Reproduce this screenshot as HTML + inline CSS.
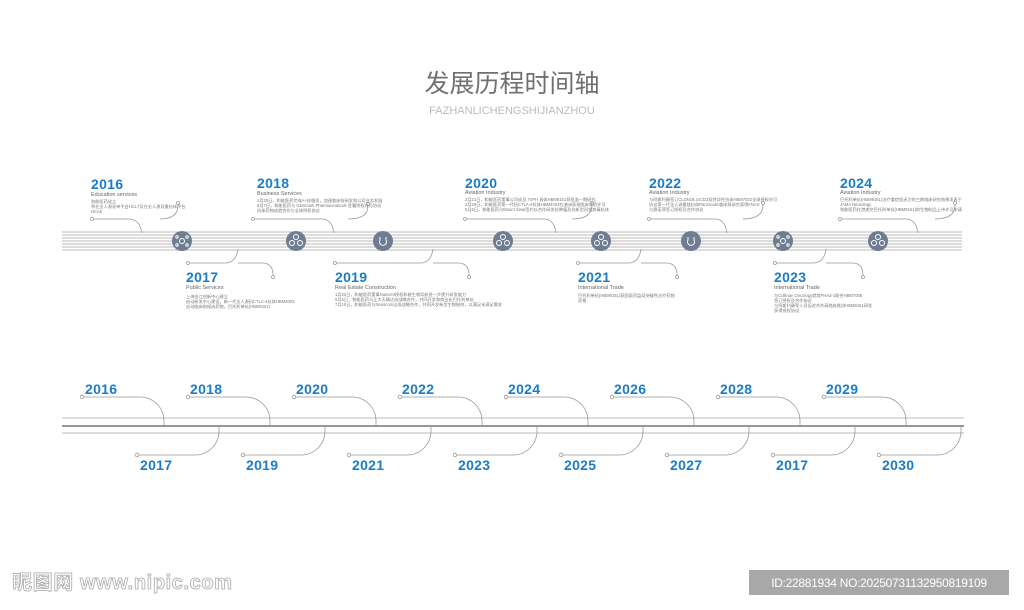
<!DOCTYPE html>
<html><head><meta charset="utf-8"><style>
html,body{margin:0;padding:0;background:#fff;}
svg{display:block;}
.y{font-family:"Liberation Sans",sans-serif;font-weight:bold;fill:#1a7cc8;font-size:14px;letter-spacing:0.3px}
.s{font-family:"Liberation Sans",sans-serif;fill:#666;font-size:5.5px}
.t{font-family:"Liberation Sans","Noto Sans CJK SC",sans-serif;fill:#777;font-size:4.2px}
.c{fill:none;stroke:#999;stroke-width:0.8}
.d{fill:#fff;stroke:#999;stroke-width:0.8}
</style></head><body>
<svg width="1024" height="610" viewBox="0 0 1024 610" xmlns="http://www.w3.org/2000/svg">
<rect width="1024" height="610" fill="#fff"/>
<text x="512" y="92" text-anchor="middle" font-family="'Liberation Sans','Noto Sans CJK SC',sans-serif" font-size="25" fill="#707070">发展历程时间轴</text>
<text x="512" y="114" text-anchor="middle" font-family="'Liberation Sans',sans-serif" font-size="11" fill="#bbb">FAZHANLICHENGSHIJIANZHOU</text>

<g stroke="#bbb" stroke-width="0.9">
<line x1="62" y1="232" x2="962" y2="232"/><line x1="62" y1="235" x2="962" y2="235"/>
<line x1="62" y1="238" x2="962" y2="238"/><line x1="62" y1="241" x2="962" y2="241"/>
<line x1="62" y1="244" x2="962" y2="244"/><line x1="62" y1="247" x2="962" y2="247"/>
<line x1="62" y1="250" x2="962" y2="250"/>
</g>
<g fill="#6f7d92">
<circle cx="182" cy="241" r="10"/><circle cx="296" cy="241" r="10"/><circle cx="383" cy="241" r="10"/>
<circle cx="503" cy="241" r="10"/><circle cx="601" cy="241" r="10"/><circle cx="691" cy="241" r="10"/>
<circle cx="783" cy="241" r="10"/><circle cx="878" cy="241" r="10"/>
</g>
<g fill="none" stroke="#fff" stroke-width="1">
<circle cx="182" cy="241" r="2.5"/><circle cx="177" cy="237" r="1.2"/><circle cx="187" cy="237" r="1.2"/><circle cx="177" cy="245" r="1.2"/><circle cx="187" cy="245" r="1.2"/>
<circle cx="292" cy="243" r="2.5"/><circle cx="300" cy="243" r="2.5"/><circle cx="296" cy="237" r="2.5"/>
<path d="M380 237 v3 a3.5 3.5 0 1 0 6 0 v-3"/>
<circle cx="499" cy="243" r="2.5"/><circle cx="507" cy="243" r="2.5"/><circle cx="503" cy="237" r="2.5"/>
<circle cx="597" cy="243" r="2.5"/><circle cx="605" cy="243" r="2.5"/><circle cx="601" cy="237" r="2.5"/>
<path d="M688 237 v3 a3.5 3.5 0 1 0 6 0 v-3"/>
<circle cx="783" cy="241" r="2.5"/><circle cx="778" cy="237" r="1.2"/><circle cx="788" cy="237" r="1.2"/><circle cx="778" cy="245" r="1.2"/><circle cx="788" cy="245" r="1.2"/>
<circle cx="874" cy="243" r="2.5"/><circle cx="882" cy="243" r="2.5"/><circle cx="878" cy="237" r="2.5"/>
</g>

<g class="c">
<path d="M94 219 H128 Q140 219 142 233"/><path d="M178 205 Q178 219 160 219"/>
<path d="M255 219 H322 Q332 219 334 233"/><path d="M368 206 Q368 219 348 219"/>
<path d="M467 219 H544 Q554 219 556 233"/><path d="M592 205 Q592 219 572 219"/>
<path d="M651 219 H715 Q725 219 727 233"/><path d="M763 205 Q763 219 743 219"/>
<path d="M842 219 H906 Q916 219 918 233"/><path d="M955 205 Q955 219 935 219"/>
<path d="M190 263 H225 Q236 263 238 249"/><path d="M238 263 H262 Q273 263 273 275"/>
<path d="M337 263 H420 Q431 263 433 249"/><path d="M433 263 H458 Q469 263 469 275"/>
<path d="M580 263 H628 Q639 263 641 249"/><path d="M641 263 H666 Q677 263 677 275"/>
<path d="M777 263 H813 Q824 263 826 249"/><path d="M826 263 H852 Q863 263 863 275"/>
</g>
<g class="d">
<circle cx="92" cy="219" r="1.5"/><circle cx="178" cy="203" r="1.5"/>
<circle cx="253" cy="219" r="1.5"/><circle cx="368" cy="204" r="1.5"/>
<circle cx="465" cy="219" r="1.5"/><circle cx="592" cy="203" r="1.5"/>
<circle cx="649" cy="219" r="1.5"/><circle cx="763" cy="203" r="1.5"/>
<circle cx="840" cy="219" r="1.5"/><circle cx="955" cy="203" r="1.5"/>
<circle cx="188" cy="263" r="1.5"/><circle cx="273" cy="277" r="1.5"/>
<circle cx="335" cy="263" r="1.5"/><circle cx="469" cy="277" r="1.5"/>
<circle cx="578" cy="263" r="1.5"/><circle cx="677" cy="277" r="1.5"/>
<circle cx="775" cy="263" r="1.5"/><circle cx="863" cy="277" r="1.5"/>
</g>

<text class="y" x="91" y="189">2016</text><text class="s" x="91" y="196">Education services</text>
<text class="t" x="91" y="203">和能医药成立</text><text class="t" x="91" y="208">将在全人源化单平台HCL7及在全人源双重抗体平台</text><text class="t" x="91" y="213">HCAb</text>
<text class="y" x="257" y="188">2018</text><text class="s" x="257" y="195">Business Services</text>
<text class="t" x="257" y="202">1月25日，和能医药完成A+轮融资，加速临床前研发和公司业务发展</text><text class="t" x="257" y="207">6月7日，和能医药与 Glenmark Pharmaceuticals 签署授权许可协议</text><text class="t" x="257" y="212">抗体药物成就合作与全球授权协议</text>
<text class="y" x="465" y="188">2020</text><text class="s" x="465" y="194">Aviation Industry</text>
<text class="t" x="465" y="201">2月21日，和能医药董事公司成员 TvPH 具体HBM9161获批准一期研究</text><text class="t" x="465" y="206">2月26日，和能医药第一代抗CTLA-4抗体HBM4003在澳洲获批临床试验许可</text><text class="t" x="465" y="211">5月6日，和能医药与Mount Sinai签约以合作研发抗肿瘤及抗新型冠状病毒抗体</text>
<text class="y" x="649" y="188">2022</text><text class="s" x="649" y="194">Aviation Industry</text>
<text class="t" x="649" y="201">与阿斯利康签订CLDN18.2xCD3双特异性抗体HBM7022全球授权许可</text><text class="t" x="649" y="206">协议第一代全人源重链抗体Pancreatic临床前研究获得FNAS</text><text class="t" x="649" y="211">与赛诺菲签订授权及合作协议</text>
<text class="y" x="840" y="188">2024</text><text class="s" x="840" y="194">Aviation Industry</text>
<text class="t" x="840" y="201">巴托利单抗(HBM9161)治疗重症肌无力的三期临床研究结果发表于</text><text class="t" x="840" y="206">JAMA Neurology</text><text class="t" x="840" y="211">和能医药在港递交巴托利单抗(HBM9161)的生物制品上市许可申请</text>

<text class="y" x="186" y="282">2017</text><text class="s" x="186" y="289">Public Services</text>
<text class="t" x="186" y="298">上海张江创新中心建立</text><text class="t" x="186" y="303">启动研发中心建设，新一代全人源抗CTLA-4抗体HBM4003</text><text class="t" x="186" y="308">启动临床前候选药物，巴托利单抗(HBM9161)</text>
<text class="y" x="335" y="282">2019</text><text class="s" x="335" y="289">Real Estate Construction</text>
<text class="t" x="335" y="296">1月22日，和能医药董事Nascent授权和能生物导航进一步提升研发能力</text><text class="t" x="335" y="301">5月6日，和能医药与正大天晴达成战略合作，共同开发和商业化巴托利单抗</text><text class="t" x="335" y="306">7月10日，和能医药与Nouscom达成战略合作，共同开发新型生物制剂，以满足未满足需求</text>
<text class="y" x="578" y="282">2021</text><text class="s" x="578" y="289">International Trade</text>
<text class="t" x="578" y="297">巴托利单抗(HBM9161)获国家药监局突破性治疗药物</text><text class="t" x="578" y="302">资格</text>
<text class="y" x="774" y="282">2023</text><text class="s" x="774" y="289">International Trade</text>
<text class="t" x="774" y="297">与Cullinan Oncology就其PHAd-1联合HBM7008</text><text class="t" x="774" y="302">签订授权及合作协议</text><text class="t" x="774" y="307">与阿斯利康等人员促进合作高临床推进HBM9161研发</text><text class="t" x="774" y="312">获得授权协议</text>

<line x1="62" y1="418" x2="964" y2="418" stroke="#bbb" stroke-width="1"/>
<line x1="62" y1="426" x2="964" y2="426" stroke="#888" stroke-width="1.8"/>
<line x1="62" y1="433" x2="964" y2="433" stroke="#bbb" stroke-width="1"/>
<g class="c">
<path d="M84 397 H140 A24 24 0 0 1 164 421 V426"/>
<path d="M190 397 H246 A24 24 0 0 1 270 421 V426"/>
<path d="M296 397 H352 A24 24 0 0 1 376 421 V426"/>
<path d="M402 397 H458 A24 24 0 0 1 482 421 V426"/>
<path d="M508 397 H564 A24 24 0 0 1 588 421 V426"/>
<path d="M614 397 H670 A24 24 0 0 1 694 421 V426"/>
<path d="M720 397 H776 A24 24 0 0 1 800 421 V426"/>
<path d="M826 397 H882 A24 24 0 0 1 906 421 V426"/>
<path d="M139 455 H195 A24 24 0 0 0 219 431 V426"/>
<path d="M245 455 H301 A24 24 0 0 0 325 431 V426"/>
<path d="M351 455 H407 A24 24 0 0 0 431 431 V426"/>
<path d="M457 455 H513 A24 24 0 0 0 537 431 V426"/>
<path d="M563 455 H619 A24 24 0 0 0 643 431 V426"/>
<path d="M669 455 H725 A24 24 0 0 0 749 431 V426"/>
<path d="M775 455 H831 A24 24 0 0 0 855 431 V426"/>
<path d="M881 455 H937 A24 24 0 0 0 961 431 V426"/>
</g>
<g class="d">
<circle cx="82" cy="397" r="1.8"/><circle cx="188" cy="397" r="1.8"/><circle cx="294" cy="397" r="1.8"/><circle cx="400" cy="397" r="1.8"/>
<circle cx="506" cy="397" r="1.8"/><circle cx="612" cy="397" r="1.8"/><circle cx="718" cy="397" r="1.8"/><circle cx="824" cy="397" r="1.8"/>
<circle cx="137" cy="455" r="1.8"/><circle cx="243" cy="455" r="1.8"/><circle cx="349" cy="455" r="1.8"/><circle cx="455" cy="455" r="1.8"/>
<circle cx="561" cy="455" r="1.8"/><circle cx="667" cy="455" r="1.8"/><circle cx="773" cy="455" r="1.8"/><circle cx="879" cy="455" r="1.8"/>
</g>
<g class="y">
<text x="85" y="394">2016</text><text x="190" y="394">2018</text><text x="296" y="394">2020</text><text x="402" y="394">2022</text>
<text x="508" y="394">2024</text><text x="614" y="394">2026</text><text x="720" y="394">2028</text><text x="826" y="394">2029</text>
<text x="140" y="470">2017</text><text x="246" y="470">2019</text><text x="352" y="470">2021</text><text x="458" y="470">2023</text>
<text x="564" y="470">2025</text><text x="670" y="470">2027</text><text x="776" y="470">2017</text><text x="882" y="470">2030</text>
</g>

<text x="12" y="589" font-family="'Liberation Sans','Noto Sans CJK SC',sans-serif" font-size="20" font-weight="bold" fill="#fff" stroke="#aaa" stroke-width="0.8" letter-spacing="0.6">昵图网 www.nipic.com</text>
<rect x="749" y="570" width="260" height="25" fill="#a8a8a8"/>
<text x="879" y="587" text-anchor="middle" font-family="'Liberation Sans',sans-serif" font-size="12" fill="#fff" letter-spacing="-0.3">ID:22881934 NO:20250731132950819109</text>
</svg>
</body></html>
